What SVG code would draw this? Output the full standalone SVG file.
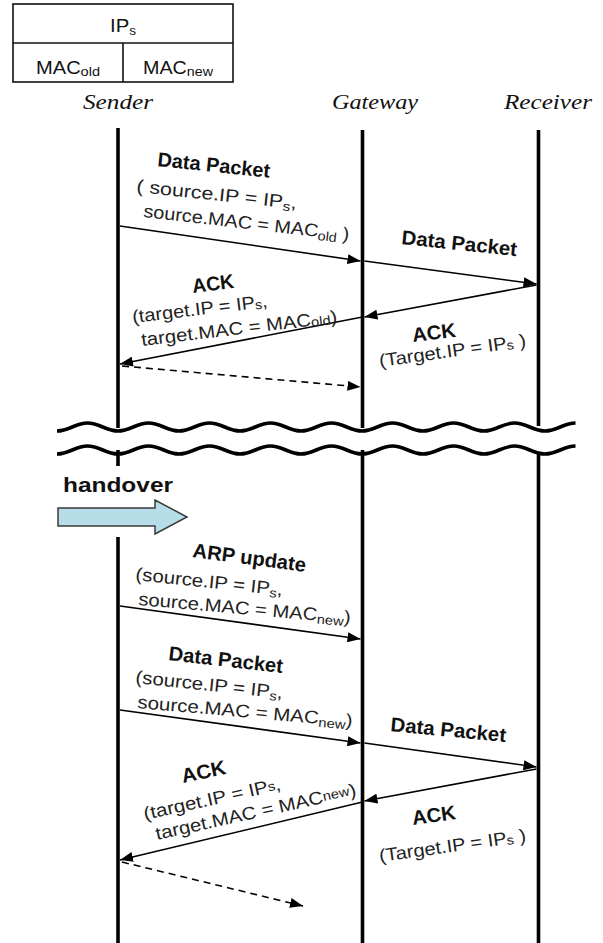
<svg xmlns="http://www.w3.org/2000/svg" width="603" height="943" viewBox="0 0 603 943">
<style>
.life{stroke:#000;stroke-width:3.6;fill:none}
.msg{stroke:#000;stroke-width:1.6;fill:none;marker-end:url(#ah)}
.dash{stroke-dasharray:7 5}
.hdr{font-family:"Liberation Serif",serif;font-style:italic;font-size:21px;fill:#111}
.b{font-family:"Liberation Sans",Arial,sans-serif;font-weight:bold;font-size:20px;fill:#111}
.r{font-family:"Liberation Sans",Arial,sans-serif;font-size:18px;fill:#222}
.t{font-family:"Liberation Sans",Arial,sans-serif;font-size:18px;fill:#111}
.wave{stroke:#000;stroke-width:3.6;fill:none}
</style>
<defs>
<marker id="ah" markerUnits="userSpaceOnUse" markerWidth="13" markerHeight="10" refX="13" refY="5" orient="auto">
<path d="M0,0 L13,5 L0,10 z" fill="#000"/>
</marker>
</defs>
<rect width="603" height="943" fill="#fff"/>

<g id="table">
<rect x="13" y="4" width="220" height="78" fill="none" stroke="#111" stroke-width="1.6"/>
<line x1="13" y1="43" x2="233" y2="43" stroke="#111" stroke-width="1.6"/>
<line x1="123" y1="43" x2="123" y2="82" stroke="#111" stroke-width="1.6"/>
<text class="t" x="110" y="32" textLength="26" lengthAdjust="spacingAndGlyphs">IP<tspan font-size="12" dy="3">s</tspan></text>
<text class="t" x="36" y="74" textLength="64" lengthAdjust="spacingAndGlyphs">MAC<tspan font-size="13" dy="2">old</tspan></text>
<text class="t" x="143" y="74" textLength="70" lengthAdjust="spacingAndGlyphs">MAC<tspan font-size="13" dy="2">new</tspan></text>
</g>

<g id="sender">
<text class="hdr" x="83" y="109" textLength="70" lengthAdjust="spacingAndGlyphs">Sender</text>
<line class="life" x1="118" y1="128" x2="118" y2="428"/>
<line class="life" x1="118" y1="450" x2="118" y2="466"/>
<line class="life" x1="118" y1="537" x2="118" y2="943"/>
</g>
<g id="gateway">
<text class="hdr" x="332" y="109" textLength="86" lengthAdjust="spacingAndGlyphs">Gateway</text>
<line class="life" x1="362.5" y1="130" x2="362.5" y2="428"/>
<line class="life" x1="362.5" y1="450" x2="362.5" y2="943"/>
</g>
<g id="receiver">
<text class="hdr" x="504" y="109" textLength="88" lengthAdjust="spacingAndGlyphs">Receiver</text>
<line class="life" x1="538.5" y1="130" x2="538.5" y2="426"/>
<line class="life" x1="538.5" y1="452" x2="538.5" y2="943"/>
</g>

<g id="break">
<path class="wave" d="M57 431 c12 0 18.5 -8 30.5 -8 s18.5 8 30.5 8 s18.5 -8 30.5 -8 s18.5 8 30.5 8 s18.5 -8 30.5 -8 s18.5 8 30.5 8 s18.5 -8 30.5 -8 s18.5 8 30.5 8 s18.5 -8 30.5 -8 s18.5 8 30.5 8 s18.5 -8 30.5 -8 s18.5 8 30.5 8 s18.5 -8 30.5 -8 s18.5 8 30.5 8 s18.5 -8 30.5 -8 s18.5 8 30.5 8 s18.5 -8 30.5 -8"/>
<path class="wave" d="M57 454 c12 0 18.5 -8 30.5 -8 s18.5 8 30.5 8 s18.5 -8 30.5 -8 s18.5 8 30.5 8 s18.5 -8 30.5 -8 s18.5 8 30.5 8 s18.5 -8 30.5 -8 s18.5 8 30.5 8 s18.5 -8 30.5 -8 s18.5 8 30.5 8 s18.5 -8 30.5 -8 s18.5 8 30.5 8 s18.5 -8 30.5 -8 s18.5 8 30.5 8 s18.5 -8 30.5 -8 s18.5 8 30.5 8 s18.5 -8 30.5 -8"/>
</g>

<g id="handover">
<text class="b" x="63" y="492" font-size="21" textLength="110" lengthAdjust="spacingAndGlyphs">handover</text>
<path d="M58 508 H155 V500 L187 517 L155 534 V526 H58 Z" fill="#b7dde8" stroke="#3a3a3a" stroke-width="1.5"/>
</g>

<g id="connectors">
<line class="msg" x1="120" y1="226" x2="360.5" y2="261"/>
<line class="msg" x1="364.5" y1="261" x2="536.5" y2="284"/>
<line class="msg" x1="536.5" y1="285" x2="364.5" y2="317"/>
<line class="msg" x1="362.5" y1="317" x2="120" y2="364"/>
<line class="msg dash" x1="122" y1="366" x2="360.5" y2="387"/>
<line class="msg" x1="120" y1="606" x2="360.5" y2="639"/>
<line class="msg" x1="120" y1="710" x2="360.5" y2="743"/>
<line class="msg" x1="364.5" y1="743" x2="536.5" y2="767"/>
<line class="msg" x1="536.5" y1="769" x2="364.5" y2="801"/>
<line class="msg" x1="362.5" y1="802" x2="120" y2="860"/>
<line class="msg dash" x1="122" y1="862" x2="303" y2="906"/>
</g>

<g id="labels">
<text class="b" transform="translate(157,166) rotate(6)" textLength="113" lengthAdjust="spacingAndGlyphs">Data Packet</text>
<text class="r" transform="translate(136,192) rotate(6)" textLength="161" lengthAdjust="spacingAndGlyphs">( source.IP = IP<tspan font-size="13" dy="3">s</tspan><tspan dy="-3">,</tspan></text>
<text class="r" transform="translate(143,217) rotate(6.5)" textLength="207" lengthAdjust="spacingAndGlyphs">source.MAC = MAC<tspan font-size="13" dy="3">old</tspan><tspan dy="-3"> )</tspan></text>

<text class="b" transform="translate(401,244) rotate(6)" textLength="116" lengthAdjust="spacingAndGlyphs">Data Packet</text>

<text class="b" transform="translate(193,293) rotate(-7)" textLength="42" lengthAdjust="spacingAndGlyphs">ACK</text>
<text class="r" transform="translate(133,323) rotate(-6.8)" textLength="136" lengthAdjust="spacingAndGlyphs">(target.IP = IP<tspan font-size="13" dy="1">s</tspan><tspan dy="-1">,</tspan></text>
<text class="r" transform="translate(142,346) rotate(-6.8)" textLength="197" lengthAdjust="spacingAndGlyphs">target.MAC = MAC<tspan font-size="13" dy="1">old</tspan><tspan dy="-1">)</tspan></text>

<text class="b" transform="translate(413,342) rotate(-7)" textLength="44" lengthAdjust="spacingAndGlyphs">ACK</text>
<text class="r" transform="translate(380,367) rotate(-8)" textLength="148" lengthAdjust="spacingAndGlyphs">(Target.IP = IP<tspan font-size="13" dy="1">s</tspan><tspan dy="-1"> )</tspan></text>

<text class="b" transform="translate(192,557) rotate(7.5)" textLength="114" lengthAdjust="spacingAndGlyphs">ARP update</text>
<text class="r" transform="translate(135,580) rotate(6)" textLength="148" lengthAdjust="spacingAndGlyphs">(source.IP = IP<tspan font-size="13" dy="3">s</tspan><tspan dy="-3">,</tspan></text>
<text class="r" transform="translate(138,605) rotate(5)" textLength="213" lengthAdjust="spacingAndGlyphs">source.MAC = MAC<tspan font-size="13" dy="3">new</tspan><tspan dy="-3">)</tspan></text>

<text class="b" transform="translate(168,660) rotate(6.5)" textLength="115" lengthAdjust="spacingAndGlyphs">Data Packet</text>
<text class="r" transform="translate(135,683) rotate(6)" textLength="148" lengthAdjust="spacingAndGlyphs">(source.IP = IP<tspan font-size="13" dy="3">s</tspan><tspan dy="-3">,</tspan></text>
<text class="r" transform="translate(137,708) rotate(5)" textLength="216" lengthAdjust="spacingAndGlyphs">source.MAC = MAC<tspan font-size="13" dy="3">new</tspan><tspan dy="-3">)</tspan></text>

<text class="b" transform="translate(390,731) rotate(5.5)" textLength="116" lengthAdjust="spacingAndGlyphs">Data Packet</text>

<text class="b" transform="translate(183,783) rotate(-12)" textLength="45" lengthAdjust="spacingAndGlyphs">ACK</text>
<text class="r" transform="translate(145,820) rotate(-12.5)" textLength="140" lengthAdjust="spacingAndGlyphs">(target.IP = IP<tspan font-size="13" dy="-1">s</tspan><tspan dy="1">,</tspan></text>
<text class="r" transform="translate(157,840) rotate(-12.5)" textLength="205" lengthAdjust="spacingAndGlyphs">target.MAC = MAC<tspan font-size="13" dy="-2">new</tspan><tspan dy="2">)</tspan></text>

<text class="b" transform="translate(413,825) rotate(-8)" textLength="44" lengthAdjust="spacingAndGlyphs">ACK</text>
<text class="r" transform="translate(380,862) rotate(-8)" textLength="148" lengthAdjust="spacingAndGlyphs">(Target.IP = IP<tspan font-size="13" dy="1">s</tspan><tspan dy="-1"> )</tspan></text>
</g>
</svg>
